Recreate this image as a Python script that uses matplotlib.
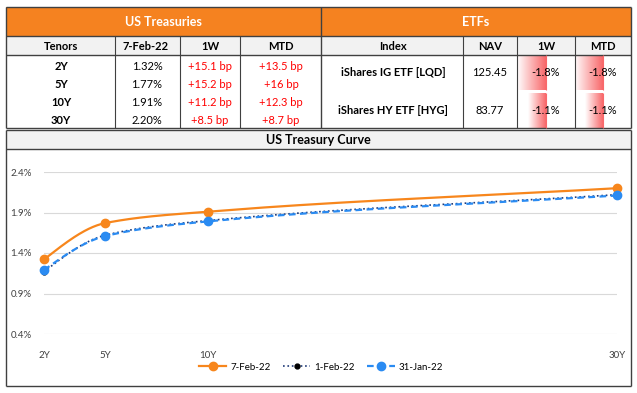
import numpy as np
import matplotlib
matplotlib.use("Agg")
import matplotlib.pyplot as plt
from matplotlib.patches import Rectangle
from matplotlib.colors import LinearSegmentedColormap

plt.rcParams['font.family'] = ['Lato', 'DejaVu Sans']

# === data ===
tenors = ["2Y", "5Y", "10Y", "30Y"]
tenor_years = [2, 5, 10, 30]
y_7feb = [1.32, 1.77, 1.91, 2.20]
y_1feb = [1.17, 1.62, 1.80, 2.12]
y_31jan = [1.19, 1.61, 1.79, 2.11]
chg_1w = ["+15.1 bp", "+15.2 bp", "+11.2 bp", "+8.5 bp"]
chg_mtd = ["+13.5 bp", "+16 bp", "+12.3 bp", "+8.7 bp"]

etf_names = ["iShares IG ETF [LQD]", "iShares HY ETF [HYG]"]
etf_nav = ["125.45", "83.77"]
etf_1w = [-1.8, -1.1]
etf_mtd = [-1.8, -1.1]

W, H = 637, 393
ORANGE = "#F58220"
GRID = "#D9D9D9"
BORDER = "#404040"

fig = plt.figure(figsize=(W / 100, H / 100), dpi=100)
bg = fig.add_axes([0, 0, 1, 1])
bg.set_xlim(0, W)
bg.set_ylim(H, 0)
bg.axis("off")

def line(x0, y0, x1, y1, c=BORDER, lw=1.0):
    bg.plot([x0, x1], [y0, y1], color=c, lw=lw, solid_capstyle="butt")

# === table ===
L, M, R = 6, 321, 631
top, hdr, sub, bot = 7, 36, 55, 128
bg.add_patch(Rectangle((L, top), R - L, hdr - top, color=ORANGE, lw=0))
bg.add_patch(Rectangle((L, hdr), R - L, sub - hdr, color="#F2F2F2", lw=0))
for yy in [top, hdr, sub, bot]:
    line(L, yy, R, yy)
for xx in [L, M, R]:
    line(xx, top, xx, bot)
for xx in [115, 180, 240, 463, 517, 575]:
    line(xx, hdr, xx, bot, lw=0.8)

fs = 8
bg.text((L + M) / 2, 22, "US Treasuries", color="white", fontsize=fs + 1, fontweight="bold", ha="center", va="center")
bg.text((M + R) / 2, 22, "ETFs", color="white", fontsize=fs + 1, fontweight="bold", ha="center", va="center")

heads = [("Tenors", 61), ("7-Feb-22", 146), ("1W", 210), ("MTD", 281),
         ("Index", 393), ("NAV", 490), ("1W", 546), ("MTD", 603)]
for t, x in heads:
    bg.text(x, 46, t, fontsize=fs, fontweight="bold", ha="center", va="center")

row_y = [66, 84, 102, 120]
for i, t in enumerate(tenors):
    y = row_y[i]
    bg.text(61, y, t, fontsize=fs, fontweight="bold", ha="center", va="center")
    bg.text(147, y, f"{y_7feb[i]:.2f}%", fontsize=fs, ha="center", va="center")
    bg.text(210, y, chg_1w[i], fontsize=fs, color="#FF0000", ha="center", va="center")
    bg.text(281, y, chg_mtd[i], fontsize=fs, color="#FF0000", ha="center", va="center")

# data bars (gradient, negative)
cmap = LinearSegmentedColormap.from_list("bar", ["#FFFFFF", "#F8696B"])
grad = np.linspace(0, 1, 64).reshape(1, -1)
px_per_pct = 16.0
etf_y = [(55, 90), (93, 128)]
for i, name in enumerate(etf_names):
    y0, y1 = etf_y[i]
    yc = (y0 + y1) / 2
    bg.text(393, yc, name, fontsize=fs, fontweight="bold", ha="center", va="center")
    bg.text(490, yc, etf_nav[i], fontsize=fs, ha="center", va="center")
    for axis_x, val, cx in [(546, etf_1w[i], 546), (603, etf_mtd[i], 603)]:
        x0 = axis_x + val * px_per_pct
        bg.imshow(grad, cmap=cmap, aspect="auto", extent=(x0, axis_x, y1, y0), zorder=1)
        line(axis_x, y0, axis_x, y1, c="#F8696B", lw=0.8)
        bg.text(cx, yc, f"{val:.1f}%", fontsize=fs, ha="center", va="center", zorder=3)

# === chart frame ===
ctop, cband, cbot = 130, 149, 386
bg.add_patch(Rectangle((L, ctop), R - L, cband - ctop, color="#F2F2F2", lw=0))
for yy in [ctop, cband, cbot]:
    line(L, yy, R, yy)
for xx in [L, R]:
    line(xx, ctop, xx, cbot)
bg.text((L + R) / 2, 140, "US Treasury Curve", fontsize=fs + 1, fontweight="bold", ha="center", va="center")

# === chart ===
ax_l, ax_r, ax_t, ax_b = 44, 617, 172, 334
ax = fig.add_axes([ax_l / W, 1 - ax_b / H, (ax_r - ax_l) / W, (ax_b - ax_t) / H])
ax.set_xlim(2, 30)
ax.set_ylim(0.4, 2.4)
ax.set_facecolor("none")
for s in ax.spines.values():
    s.set_visible(False)
ax.set_yticks([0.4, 0.9, 1.4, 1.9, 2.4])
ax.set_yticklabels(["0.4%", "0.9%", "1.4%", "1.9%", "2.4%"])
ax.set_xticks(tenor_years)
ax.set_xticklabels(tenors)
ax.tick_params(length=0, labelsize=7, colors="#404040")
ax.tick_params(axis="y", pad=9)
ax.tick_params(axis="x", pad=12)
ax.grid(axis="y", color=GRID, lw=0.8)
ax.set_axisbelow(True)


def smooth(xs, ys, n=60):
    # smoothed line through the points: monotone cubic Hermite (pchip tangents)
    x = np.asarray(xs, float)
    y = np.asarray(ys, float)
    h = np.diff(x)
    d = np.diff(y) / h
    m = np.zeros_like(y)
    for k in range(1, len(x) - 1):
        if d[k - 1] * d[k] > 0:
            w1 = 2 * h[k] + h[k - 1]
            w2 = h[k] + 2 * h[k - 1]
            m[k] = (w1 + w2) / (w1 / d[k - 1] + w2 / d[k])
    m[0] = ((2 * h[0] + h[1]) * d[0] - h[0] * d[1]) / (h[0] + h[1])
    m[-1] = d[-1]
    px, py = [], []
    for i in range(len(x) - 1):
        t = np.linspace(0, 1, n)
        h00 = 2 * t**3 - 3 * t**2 + 1
        h10 = t**3 - 2 * t**2 + t
        h01 = -2 * t**3 + 3 * t**2
        h11 = t**3 - t**2
        px.append(x[i] + t * h[i])
        py.append(h00 * y[i] + h10 * h[i] * m[i] + h01 * y[i + 1] + h11 * h[i] * m[i + 1])
    return np.concatenate(px), np.concatenate(py)

sx, sy = smooth(tenor_years, y_7feb)
ax.plot(sx, sy, color="#F7861C", lw=1.6, clip_on=False)
ax.plot(tenor_years, y_7feb, "o", color="#F7861C", ms=6, clip_on=False)
sx, sy = smooth(tenor_years, y_1feb)
ax.plot(sx, sy, color="#1F3A78", lw=1.2, ls=":", clip_on=False)
ax.plot(tenor_years, y_1feb, "o", color="black", ms=3.5, clip_on=False)
sx, sy = smooth(tenor_years, y_31jan)
ax.plot(sx, sy, color="#2A8BF2", lw=1.6, ls=(0, (3, 2)), clip_on=False)
ax.plot(tenor_years, y_31jan, "o", color="#2A8BF2", ms=6, clip_on=False)

h1, = ax.plot([], [], color="#F7861C", lw=1.6, marker="o", ms=6)
h2, = ax.plot([], [], color="#1F3A78", lw=1.2, ls=":", marker="o", ms=3.5, mfc="black", mec="black")
h3, = ax.plot([], [], color="#2A8BF2", lw=1.6, ls=(0, (3, 2)), marker="o", ms=6)
fig.legend([h1, h2, h3], ["7-Feb-22", "1-Feb-22", "31-Jan-22"], ncol=3, frameon=False,
           loc="center", bbox_to_anchor=(321 / W, 1 - 367 / H), fontsize=7,
           handlelength=2.8, columnspacing=1.3, handletextpad=0.4)

fig.savefig("out.png", dpi=100)
